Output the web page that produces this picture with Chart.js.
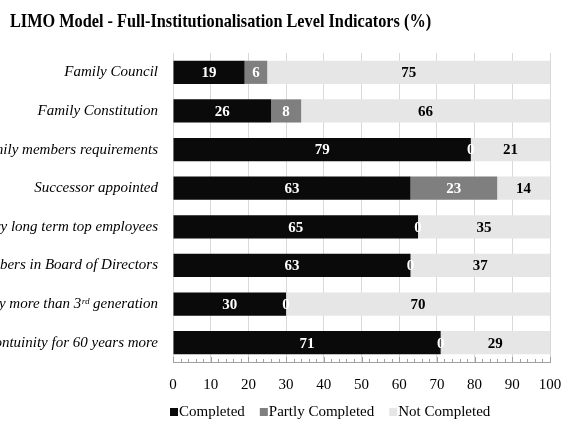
<!DOCTYPE html>
<html>
<head>
<meta charset="utf-8">
<title>LIMO Model - Full-Institutionalisation Level Indicators</title>
<script src="https://cdn.jsdelivr.net/npm/chart.js@4/dist/chart.umd.min.js"></script>
<style>
  html, body { margin: 0; padding: 0; background: #ffffff; }
  #wrap { position: relative; width: 565px; height: 422px; }
</style>
</head>
<body>
<div id="wrap"><canvas id="chart" width="565" height="422"></canvas></div>
<script>
// Indicator names, one per row (top to bottom)
const categories = [
  'Family Council',
  'Family Constitution',
  'Family members requirements',
  'Successor appointed',
  'Very long term top employees',
  'Family members in Board of Directors',
  'Family company more than 3\u02b3\u1d48 generation',
  'Family contuinity for 60 years more'
];

// Share of companies per status (%)
const completed       = [19, 26, 79, 63, 65, 63, 30, 71];
const partlyCompleted = [ 6,  8,  0, 23,  0,  0,  0,  0];
const notCompleted    = [75, 66, 21, 14, 35, 37, 70, 29];

const seriesNames = ['Completed', 'Partly Completed', 'Not Completed'];
const xTicks = [0, 10, 20, 30, 40, 50, 60, 70, 80, 90, 100];
const chartTitle = 'LIMO Model - Full-Institutionalisation Level Indicators (%)';

const SERIF = '"Liberation Serif", "Times New Roman", "DejaVu Serif", serif';
const colors = ['#0a0a0a', '#7f7f7f', '#e6e6e6'];
const labelColors = ['#ffffff', '#ffffff', '#000000'];

// Bold, slightly condensed heading in the top-left corner
const heading = {
  id: 'heading',
  afterDraw(chart) {
    const ctx = chart.ctx;
    ctx.save();
    ctx.font = 'bold 19px ' + SERIF;
    ctx.fillStyle = '#000000';
    ctx.textAlign = 'left';
    ctx.textBaseline = 'middle';
    ctx.translate(10, 22);
    ctx.scale(0.856, 1);
    ctx.fillText(chartTitle, 0, 0);
    ctx.restore();
  }
};

// Value printed in the middle of each stacked segment
const segmentLabels = {
  id: 'segmentLabels',
  afterDatasetsDraw(chart) {
    const ctx = chart.ctx;
    ctx.save();
    ctx.font = 'bold 15px ' + SERIF;
    ctx.textAlign = 'center';
    ctx.textBaseline = 'middle';
    chart.data.datasets.forEach((ds, di) => {
      const meta = chart.getDatasetMeta(di);
      meta.data.forEach((bar, i) => {
        const v = ds.data[i];
        const cx = (bar.x + bar.base) / 2;
        ctx.fillStyle = labelColors[di];
        ctx.fillText(String(v), cx, bar.y + 1);
      });
    });
    ctx.restore();
  }
};

// Small inward tick marks along the value axis (every 2, taller at every 10)
const minorTicks = {
  id: 'minorTicks',
  afterDraw(chart) {
    const x = chart.scales.x;
    const ctx = chart.ctx;
    const y0 = chart.chartArea.bottom;
    ctx.save();
    ctx.strokeStyle = '#a0a0a0';
    ctx.lineWidth = 1;
    for (let v = 0; v <= 100; v += 2) {
      const px = Math.round(x.getPixelForValue(v)) + 0.5;
      const len = v % 10 === 0 ? 5 : 3;
      ctx.beginPath();
      ctx.moveTo(px, y0);
      ctx.lineTo(px, y0 - len);
      ctx.stroke();
    }
    ctx.restore();
  }
};

// Legend row below the axis labels
const bottomLegend = {
  id: 'bottomLegend',
  afterDraw(chart) {
    const ctx = chart.ctx;
    ctx.save();
    ctx.font = '15px ' + SERIF;
    ctx.textBaseline = 'middle';
    ctx.textAlign = 'left';
    let x = 170;
    const y = 412;
    chart.data.datasets.forEach((ds) => {
      ctx.fillStyle = ds.backgroundColor;
      ctx.fillRect(x, y - 4, 8, 8);
      ctx.fillStyle = '#000000';
      ctx.fillText(ds.label, x + 9, y);
      x += 9 + ctx.measureText(ds.label).width + 15;
    });
    ctx.restore();
  }
};

new Chart(document.getElementById('chart'), {
  type: 'bar',
  data: {
    labels: categories,
    datasets: [
      { label: seriesNames[0], data: completed,       backgroundColor: colors[0] },
      { label: seriesNames[1], data: partlyCompleted, backgroundColor: colors[1] },
      { label: seriesNames[2], data: notCompleted,    backgroundColor: colors[2] }
    ]
  },
  options: {
    indexAxis: 'y',
    responsive: false,
    animation: false,
    devicePixelRatio: 1,
    categoryPercentage: 0.6,
    barPercentage: 1.0,
    layout: { padding: { left: 0, right: 15, top: 53, bottom: 14 } },
    plugins: {
      legend: { display: false },
      tooltip: { enabled: false },
      title: { display: false }
    },
    scales: {
      x: {
        stacked: true,
        min: 0,
        max: 100,
        afterBuildTicks(scale) {
          scale.ticks = xTicks.map(v => ({ value: v }));
        },
        afterFit(scale) {
          scale.paddingLeft = 0;
          scale.paddingRight = 0;
        },
        ticks: {
          color: '#000000',
          font: { family: SERIF, size: 15 },
          padding: 14,
          maxRotation: 0
        },
        grid: { color: '#d9d9d9', drawTicks: false },
        border: { display: true, color: '#a0a0a0' }
      },
      y: {
        stacked: true,
        afterFit(scale) { scale.width = 173; },
        ticks: {
          color: '#000000',
          font: { family: SERIF, size: 15, style: 'italic' },
          padding: 15
        },
        grid: { display: false, drawTicks: false },
        border: { display: false }
      }
    }
  },
  plugins: [heading, segmentLabels, minorTicks, bottomLegend]
});
</script>
</body>
</html>
